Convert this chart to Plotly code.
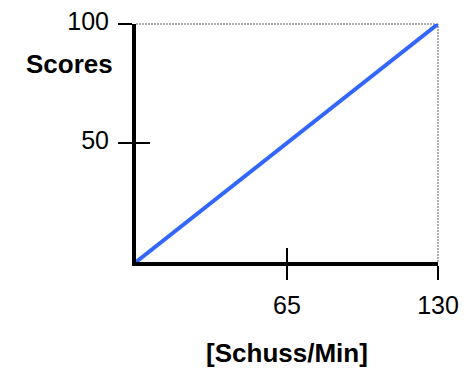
import plotly.graph_objects as go

# Data
x_vals = [0, 130]
y_vals = [0, 100]
x_ticks = [65, 130]
x_tick_text = ["65", "130"]
y_ticks = [50, 100]
y_tick_text = ["50", "100"]
x_title = "[Schuss/Min]"
y_title = "Scores"

FONT = "Liberation Sans, Arial, sans-serif"

fig = go.Figure()
fig.add_trace(go.Scatter(x=x_vals, y=y_vals, mode="lines",
                         line=dict(color="#3366FF", width=4),
                         hoverinfo="skip", showlegend=False))
# invisible trace for overlay axes (inner half of the crossing ticks)
fig.add_trace(go.Scatter(x=x_vals, y=y_vals, xaxis="x2", yaxis="y2", mode="lines",
                         line=dict(width=0), opacity=0, hoverinfo="skip", showlegend=False))

common = dict(showgrid=False, zeroline=False, fixedrange=True)
fig.update_layout(
    width=466, height=370,
    margin=dict(l=136, r=28, t=24, b=108),
    paper_bgcolor="white", plot_bgcolor="white",
    font=dict(family=FONT, size=25, color="black"),
    xaxis=dict(range=[0, 130], tickvals=x_ticks, ticktext=x_tick_text,
               showline=True, linecolor="black", linewidth=4,
               ticks="outside", ticklen=14, tickwidth=2, tickcolor="black",
               ticklabelstandoff=4, automargin=False,
               title=dict(text="<b>" + x_title + "</b>", standoff=27,
                          font=dict(size=26)),
               **common),
    yaxis=dict(range=[0, 100], tickvals=y_ticks, ticktext=y_tick_text,
               showline=True, linecolor="black", linewidth=4,
               ticks="outside", ticklen=14, tickwidth=2, tickcolor="black",
               ticklabelstandoff=4, ticklabelshift=-3, automargin=False,
               **common),
    xaxis2=dict(range=[0, 130], overlaying="x", anchor="y2", side="bottom",
                tickvals=x_ticks, showticklabels=False, showline=False,
                ticks="inside", ticklen=14, tickwidth=2, tickcolor="black",
                **common),
    yaxis2=dict(range=[0, 100], overlaying="y", anchor="x2", side="left",
                tickvals=y_ticks, showticklabels=False, showline=False,
                ticks="inside", ticklen=14, tickwidth=2, tickcolor="black",
                **common),
    shapes=[
        dict(type="line", xref="x domain", yref="y domain", x0=0, x1=1, y0=1, y1=1,
             line=dict(color="#B0B0B0", width=2, dash="2px,1px"), layer="below"),
        dict(type="line", xref="x domain", yref="y domain", x0=1, x1=1, y0=0, y1=1,
             line=dict(color="#B0B0B0", width=2, dash="2px,1px"), layer="below"),
    ],
    annotations=[
        dict(text="<b>" + y_title + "</b>", xref="paper", yref="paper",
             x=-0.22, y=0.83, xanchor="center", yanchor="middle",
             showarrow=False, font=dict(size=26, family=FONT)),
    ],
)

fig.write_html("out.html", config={"displayModeBar": False},
               post_script="document.body.style.margin='0';document.body.style.overflow='hidden';")
